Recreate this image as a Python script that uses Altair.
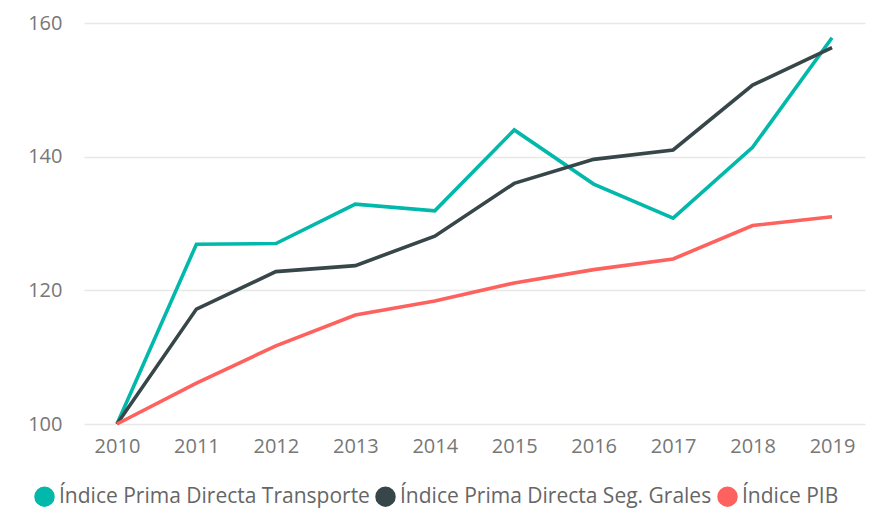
import altair as alt
import pandas as pd

years = ["2010", "2011", "2012", "2013", "2014", "2015", "2016", "2017", "2018", "2019"]
series_names = [
    "Índice Prima Directa Transporte",
    "Índice Prima Directa Seg. Grales",
    "Índice PIB",
]
transporte = [100, 126.9, 127.0, 132.9, 131.9, 144.0, 135.9, 130.8, 141.4, 157.8]
seg_grales = [100, 117.2, 122.8, 123.7, 128.1, 136.0, 139.6, 141.0, 150.7, 156.3]
pib = [100, 106.1, 111.7, 116.3, 118.4, 121.1, 123.1, 124.7, 129.7, 131.0]
colors = ["#01B8AA", "#374649", "#FD625E"]

rows = []
for name, vals in zip(series_names, [transporte, seg_grales, pib]):
    for y, v in zip(years, vals):
        rows.append({"Año": y, "Serie": name, "Valor": v})
df = pd.DataFrame(rows)

font = "Open Sans"

x_enc = alt.X("Año:O", scale=alt.Scale(type="point", padding=0.415),
              axis=alt.Axis(title=None, labelAngle=0, domain=False, ticks=False,
                            labelPadding=12, labelFontSize=20, labelColor="#777777",
                            labelFont=font, grid=False))
y_enc = alt.Y("Valor:Q", scale=alt.Scale(domain=[100, 160], nice=False, zero=False),
              axis=alt.Axis(title=None, values=[100, 120, 140, 160], domain=False, ticks=False,
                            labelPadding=22, labelFontSize=20, labelColor="#777777",
                            labelFont=font, grid=True, gridColor="#E8E8E8", gridWidth=1.5))
color_scale = alt.Scale(domain=series_names, range=colors)

base = alt.Chart(df)

lines = base.mark_line(strokeWidth=3.6).encode(
    x=x_enc, y=y_enc,
    color=alt.Color("Serie:N", scale=color_scale, legend=None),
    order=alt.Order("Año:O"),
)

pts = base.mark_point(filled=True, opacity=0, size=1).encode(
    x=x_enc, y=y_enc,
    color=alt.Color("Serie:N", scale=color_scale,
                    legend=alt.Legend(title=None, orient="none", direction="horizontal",
                                      legendX=-50, legendY=463,
                                      symbolType="circle", symbolSize=420,
                                      symbolStrokeWidth=0, symbolOpacity=1,
                                      labelFontSize=21, labelColor="#666666",
                                      labelFont=font, columnPadding=5, labelOffset=4,
                                      labelLimit=400)),
)

chart = alt.layer(lines, pts).resolve_legend(color="independent").properties(
    width=781, height=401,
    autosize=alt.AutoSizeParams(type="none"),
    padding={"left": 84, "top": 23, "right": 16, "bottom": 91},
).configure_view(stroke=None)

chart.save("out.html", embed_options={"renderer": "svg", "actions": False})
